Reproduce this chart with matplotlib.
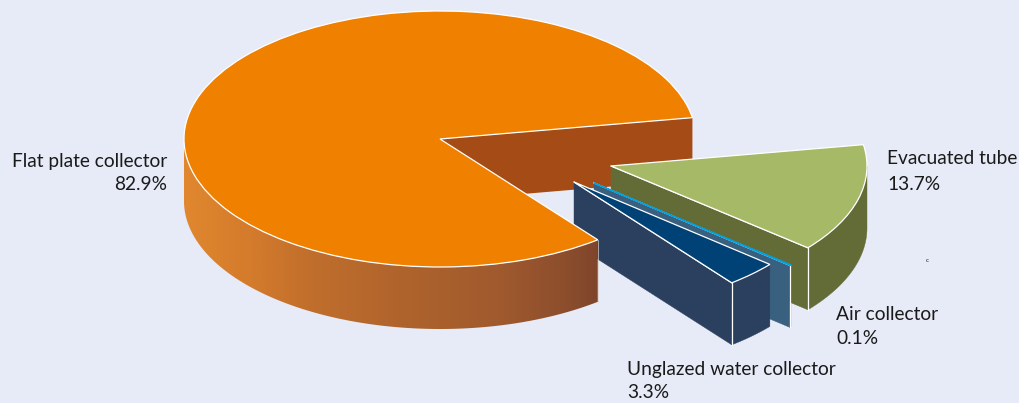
import numpy as np
import matplotlib
matplotlib.use("Agg")
import matplotlib.pyplot as plt
from matplotlib.patches import Wedge, Polygon
from matplotlib.transforms import Affine2D
from matplotlib.colors import LinearSegmentedColormap

# Data
main_label = "Flat plate collector"
main_share = 82.9
slice_labels = ["Evacuated tube", "Air collector", "Unglazed water collector"]
slice_shares = [13.7, 0.1, 3.3]

# Styles
BG = "#e7ebf7"
plt.rcParams["font.family"] = ["Lato", "DejaVu Sans"]
CX, CY, RX, RY, DEPTH = 440, 139, 256, 128, 62
START = 9.6
slice_offsets = [(171, 27), (154, 44), (134, 43)]
slice_tops = ["#a6b966", "#00a3e0", "#004276"]
slice_walls = ["#636b37", "#3a6080", "#2b405f"]
slice_edges = ["#ffffff", "#00a3e0", "#ffffff"]
slice_lw = [0.9, 0.9, 0.9]
EDGE = "#ffffff"

fig = plt.figure(figsize=(10.19, 4.03), dpi=100, facecolor=BG)
ax = fig.add_axes([0, 0, 1, 1])
ax.set_xlim(0, 1019)
ax.set_ylim(403, 0)
ax.axis("off")


def pt(theta, ox=0, oy=0, r=1.0, dz=0):
    t = np.radians(theta)
    return np.column_stack([CX + ox + r * RX * np.cos(t),
                            CY + oy - r * RY * np.sin(t) + dz * np.ones_like(t)])


def centre(ox=0, oy=0, dz=0):
    return np.array([[CX + ox, CY + oy + dz]])


def wall_radial(theta, ox, oy, color, z, lw=0.9):
    a = pt(np.array([theta]), ox, oy)
    verts = np.vstack([centre(ox, oy), a, a + [0, DEPTH], centre(ox, oy, DEPTH)])
    ax.add_patch(Polygon(verts, closed=True, fc=color, ec=color, lw=0.3, zorder=z))
    ax.plot(*np.vstack([centre(ox, oy), a]).T, color=EDGE, lw=lw, zorder=z + 0.1)


def wall_arc(t1, t2, ox, oy, color, z):
    th = np.linspace(t1, t2, 80)
    top_edge = pt(th, ox, oy)
    verts = np.vstack([top_edge, (top_edge + [0, DEPTH])[::-1]])
    ax.add_patch(Polygon(verts, closed=True, fc=color, ec=color, lw=0.3, zorder=z))
    ax.plot([top_edge[0, 0]] * 2, [top_edge[0, 1], top_edge[0, 1] + DEPTH], color=EDGE, lw=0.9, zorder=z + 0.1)


def top(t1, t2, ox, oy, color, z, lw=0.9, ec=EDGE):
    tr = Affine2D().scale(RX, -RY).translate(CX + ox, CY + oy) + ax.transData
    ax.add_patch(Wedge((0, 0), 1, t1, t2, fc=color, ec=ec, lw=lw, transform=tr, zorder=z))


main_end = START - (100 - main_share) * 3.6

# back cut wall of the main slice
a = pt(np.array([START]))
ax.add_patch(Polygon(np.vstack([centre(), a, a + [0, DEPTH], centre(dz=DEPTH)]),
                     closed=True, fc="#a44b16", ec="none", zorder=1))

# exploded slices, back to front
theta = START
for i, (share, off, ct, cw, ce, lw) in enumerate(zip(slice_shares, slice_offsets, slice_tops,
                                                     slice_walls, slice_edges, slice_lw)):
    t_end = theta - share * 3.6
    z = 2 + i
    wall_radial(t_end, off[0], off[1], cw, z, lw=lw)
    wall_arc(t_end, 0 if t_end < 0 < theta else theta, off[0], off[1], cw, z + 0.2)
    top(t_end, theta, off[0], off[1], ct, z + 0.4, lw=lw, ec=ce)
    theta = t_end

# main outer wall with horizontal gradient
th = np.linspace(180, 360 + main_end, 240)
up = pt(th)
wall = np.vstack([up, (up + [0, DEPTH])[::-1]])
stops = [(0.0, "#e0872f"), (0.16, "#d47b2c"), (0.31, "#c06e2c"), (0.52, "#b0642c"),
         (0.76, "#a05a2e"), (0.91, "#8e4f2d"), (1.0, "#7f452b")]
cmap = LinearSegmentedColormap.from_list("wall", stops)
im = ax.imshow(np.linspace(0, 1, 256)[None, :], cmap=cmap, aspect="auto",
               extent=(up[:, 0].min(), up[:, 0].max(), (up + [0, DEPTH])[:, 1].max(), up[:, 1].min()),
               zorder=6, interpolation="bilinear")
clip = Polygon(wall, closed=True, transform=ax.transData, fc="none", ec="none")
ax.add_patch(clip)
im.set_clip_path(clip)
ax.plot([up[-1, 0]] * 2, [up[-1, 1], up[-1, 1] + DEPTH], color="#d9cfc8", lw=0.5, zorder=6.1)
ax.set_xlim(0, 1019)
ax.set_ylim(403, 0)

# main top
top(START, 360 + main_end, 0, 0, "#f08000", 7, lw=0.9)

# labels
TXT = "#1a1a1a"
FS = 13.8
ax.text(167, 161, main_label, ha="right", va="center", fontsize=FS, color=TXT)
ax.text(167, 185, f"{main_share}%", ha="right", va="center", fontsize=FS, color=TXT)
positions = [(887, 158, 184), (836, 315, 339), (627, 369, 393)]
for lab, share, (x, y1, y2) in zip(slice_labels, slice_shares, positions):
    ax.text(x, y1, lab, ha="left", va="center", fontsize=FS, color=TXT)
    ax.text(x, y2, f"{share}%", ha="left", va="center", fontsize=FS, color=TXT)
ax.text(927, 260, "c", ha="center", va="center", fontsize=4.5, color=TXT)

fig.savefig("out.png", dpi=100, facecolor=BG)
